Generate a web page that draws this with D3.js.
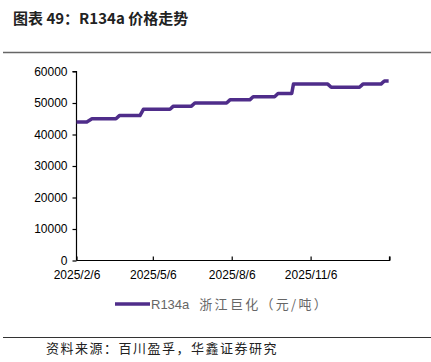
<!DOCTYPE html>
<html>
<head>
<meta charset="utf-8">
<script src="https://cdn.jsdelivr.net/npm/d3@7"></script>
<style>
  body { margin: 0; background: #fff; }
  svg { display: block; }
</style>
</head>
<body>
<svg id="chart"></svg>
<script>
// ----------------------------------
// data
// ----------------------------------
const dates = [
  "2025-02-06", "2025-02-18", "2025-02-24", "2025-03-24", "2025-03-28",
  "2025-04-21", "2025-04-25", "2025-05-26", "2025-05-30", "2025-06-20",
  "2025-06-24", "2025-07-31", "2025-08-04", "2025-08-27", "2025-08-31",
  "2025-09-25", "2025-09-29", "2025-10-15", "2025-10-17", "2025-11-26",
  "2025-11-30", "2026-01-02", "2026-01-06", "2026-01-27", "2026-01-31",
  "2026-02-05"
];
const prices = [
  44000, 44000, 45000, 45000, 46000,
  46000, 48000, 48000, 49000, 49000,
  50000, 50000, 51000, 51000, 52000,
  52000, 53000, 53000, 56000, 56000,
  55000, 55000, 56000, 56000, 57000,
  57000
];
const xTickDates = ["2025-02-06", "2025-05-06", "2025-08-06", "2025-11-06", "2026-02-06"];
const xTickLabels = ["2025/2/6", "2025/5/6", "2025/8/6", "2025/11/6", ""];
const yTicks = [0, 10000, 20000, 30000, 40000, 50000, 60000];
const seriesCode = "R134a";
const seriesDesc = "浙江巨化（元/吨）";

// ----------------------------------
// setup
// ----------------------------------
const width = 431, height = 362;
const svg = d3.select("#chart").attr("width", width).attr("height", height);
const parse = d3.timeParse("%Y-%m-%d");
const cnFont = "'Noto Sans CJK SC', sans-serif";
const numFont = "'Liberation Sans', Arial, sans-serif";
const purple = "#4f2d8a";

// title + rules
svg.append("text")
  .attr("x", 13).attr("y", 24)
  .style("font-family", cnFont).style("font-size", "15px").style("font-weight", "bold")
  .attr("fill", "#222")
  .text("图表 49：R134a 价格走势");

svg.append("line").attr("x1", 3).attr("x2", 431).attr("y1", 52.5).attr("y2", 52.5)
  .attr("stroke", "#666").attr("stroke-width", 1.5);
svg.append("line").attr("x1", 3).attr("x2", 431).attr("y1", 337.5).attr("y2", 337.5)
  .attr("stroke", "#333").attr("stroke-width", 1.2);

svg.append("text")
  .attr("x", 46).attr("y", 353)
  .style("font-family", cnFont).style("font-size", "13px").style("letter-spacing", "1.5px")
  .attr("fill", "#222")
  .text("资料来源：百川盈孚，华鑫证券研究");

// ----------------------------------
// scales + axes
// ----------------------------------
const x = d3.scaleTime()
  .domain([parse(xTickDates[0]), parse(xTickDates[xTickDates.length - 1])])
  .range([76.5, 389.5]);
const y = d3.scaleLinear().domain([0, 60000]).range([260.5, 71.5]);

const yAxis = svg.append("g")
  .attr("transform", "translate(76.5,0)")
  .call(d3.axisLeft(y).tickValues(yTicks).tickSize(4).tickPadding(5).tickFormat(d3.format("d")));
yAxis.select(".domain").attr("stroke", "#000").attr("stroke-width", 1.2).attr("d", "M-4,71.5H0V260.5");
yAxis.selectAll(".tick line").attr("stroke", "#000").attr("stroke-width", 1.2);
yAxis.selectAll("text").style("font-family", numFont).style("font-size", "12px").attr("fill", "#000");

const xAxis = svg.append("g")
  .attr("transform", "translate(0,260.5)")
  .call(d3.axisBottom(x).tickValues(xTickDates.map(parse)).tickSize(-4).tickPadding(10)
    .tickFormat((d, i) => xTickLabels[i]));
xAxis.select(".domain").attr("stroke", "#000").attr("stroke-width", 1.2).attr("d", "M76.5,0H389.5V-4");
xAxis.selectAll(".tick line").attr("stroke", "#000").attr("stroke-width", 1.2);
xAxis.selectAll("text").style("font-family", numFont).style("font-size", "12px").attr("fill", "#000");

// ----------------------------------
// series
// ----------------------------------
const data = dates.map((d, i) => ({ date: parse(d), value: prices[i] }));
const line = d3.line().x(d => x(d.date)).y(d => y(d.value));

svg.append("path")
  .datum(data)
  .attr("d", line)
  .attr("fill", "none")
  .attr("stroke", purple)
  .attr("stroke-width", 3.5)
  .attr("stroke-linejoin", "round");

// legend
svg.append("line").attr("x1", 115).attr("x2", 150).attr("y1", 304).attr("y2", 304)
  .attr("stroke", purple).attr("stroke-width", 3.5);
const legText = svg.append("text")
  .attr("x", 151).attr("y", 309)
  .style("font-size", "13px")
  .attr("fill", "#666");
legText.append("tspan").style("font-family", numFont).text(seriesCode);
legText.append("tspan").attr("dx", 10)
  .style("font-family", cnFont).style("letter-spacing", "2.3px")
  .text(seriesDesc);
</script>
</body>
</html>
